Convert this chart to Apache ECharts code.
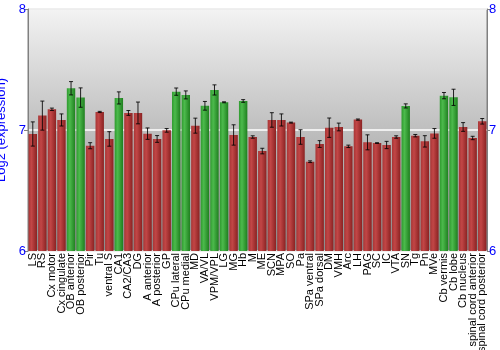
<!DOCTYPE html>
<html>
<head>
<meta charset="utf-8">
<script src="https://cdn.jsdelivr.net/npm/echarts@6/dist/echarts.min.js"></script>
<style>
  html, body { margin: 0; padding: 0; background: #ffffff; }
  #chart { width: 500px; height: 350px; }
</style>
</head>
<body>
<div id="chart"></div>
<script>
// Brain regions (x axis categories)
const regions = [
  'LS', 'RS', 'Cx motor', 'Cx cingulate', 'OB anterior', 'OB posterior', 'Pir', 'Tu',
  'ventral S', 'CA1', 'CA2/CA3', 'DG', 'A anterior', 'A posterior', 'GP', 'CPu lateral',
  'CPu medial', 'MD', 'VA/VL', 'VPM/VPL', 'LG', 'MG', 'Hb', 'M', 'ME', 'SCN', 'MPA', 'SO',
  'Pa', 'SPa ventral', 'SPa dorsal', 'DM', 'VMH', 'Arc', 'LH', 'PAG', 'SC', 'IC', 'VTA',
  'SN', 'Tg', 'Pn', 'MVe', 'Cb vermis', 'Cb lobe', 'Cb nucleus', 'spinal cord anterior',
  'spinal cord posterior'
];

// Mean log2 expression per region
const expression = [
  6.967, 7.119, 7.171, 7.083, 7.345, 7.268, 6.870, 7.149,
  6.926, 7.265, 7.141, 7.141, 6.970, 6.926, 6.997, 7.317,
  7.290, 7.036, 7.200, 7.331, 7.229, 6.959, 7.240, 6.942, 6.826, 7.083, 7.083, 7.061,
  6.942, 6.738, 6.884, 7.019, 7.025, 6.865, 7.086, 6.898, 6.892, 6.876, 6.942,
  7.199, 6.953, 6.906, 6.972, 7.284, 7.270, 7.025, 6.934,
  7.072
];

// Standard error per region
const stdErr = [
  0.100, 0.120, 0.010, 0.050, 0.055, 0.080, 0.025, 0.005,
  0.060, 0.050, 0.020, 0.090, 0.047, 0.028, 0.015, 0.030,
  0.033, 0.062, 0.036, 0.042, 0.004, 0.084, 0.011, 0.010, 0.023, 0.060, 0.050, 0.004,
  0.060, 0.007, 0.028, 0.080, 0.032, 0.010, 0.005, 0.062, 0.003, 0.030, 0.010,
  0.017, 0.010, 0.047, 0.040, 0.026, 0.067, 0.036, 0.014,
  0.023
];

// Regions flagged as enriched (drawn in green)
const enriched = [
  'OB anterior', 'OB posterior', 'CA1', 'CPu lateral', 'CPu medial', 'VA/VL',
  'VPM/VPL', 'LG', 'Hb', 'SN', 'Cb vermis', 'Cb lobe'
];

// Y axis ticks
const yTicks = [6, 7, 8];

const hGrad = (edgeL, mid, edgeR) => new echarts.graphic.LinearGradient(0, 0, 1, 0, [
  { offset: 0, color: edgeL },
  { offset: 0.35, color: mid },
  { offset: 1, color: edgeR }
]);
const redFill = hGrad('#a83636', '#c24646', '#8a2222');
const greenFill = hGrad('#2f9a2f', '#4cba4c', '#1f7f1f');

const chart = echarts.init(document.getElementById('chart'), null, { renderer: 'canvas' });

const barData = expression.map((v, i) => ({
  value: v,
  itemStyle: { color: enriched.includes(regions[i]) ? greenFill : redFill }
}));

const errData = expression.map((v, i) => [i, v - stdErr[i], v + stdErr[i]]);

const yMin = yTicks[0], yMax = yTicks[yTicks.length - 1];
const font = 'Liberation Sans, Arial, sans-serif';

chart.setOption({
  animation: false,
  grid: {
    left: 28, right: 13, top: 9, bottom: 99,
    containLabel: false,
    outerBoundsMode: 'none',
    show: true,
    borderColor: '#808080',
    borderWidth: 1,
    backgroundColor: new echarts.graphic.LinearGradient(0, 0, 0, 1, [
      { offset: 0, color: '#f3f3f3' },
      { offset: 1, color: '#8a8a8a' }
    ])
  },
  xAxis: {
    type: 'category',
    data: regions,
    boundaryGap: true,
    axisLine: { show: false },
    axisTick: { show: false },
    axisLabel: {
      interval: 0,
      rotate: 90,
      margin: 2,
      color: '#000000',
      fontFamily: font,
      fontSize: 11
    }
  },
  yAxis: [
    {
      type: 'value',
      min: yMin, max: yMax, interval: 1,
      position: 'left',
      name: 'Log2 (expression)',
      nameLocation: 'middle',
      nameGap: 13,
      nameTextStyle: { color: '#0000ff', fontSize: 13, fontFamily: font },
      axisLine: { show: true, lineStyle: { color: '#808080' } },
      axisTick: { show: true, length: 4, lineStyle: { color: '#808080' } },
      axisLabel: { color: '#0000ff', fontSize: 13, margin: 2, fontFamily: font },
      splitLine: { show: true, lineStyle: { color: '#ffffff', width: 1.5 } }
    },
    {
      type: 'value',
      min: yMin, max: yMax, interval: 1,
      position: 'right',
      axisLine: { show: true, lineStyle: { color: '#808080' } },
      axisTick: { show: true, length: 3, lineStyle: { color: '#808080' } },
      axisLabel: { color: '#0000ff', fontSize: 13, margin: 2, fontFamily: font },
      splitLine: { show: false }
    }
  ],
  series: [
    {
      type: 'bar',
      data: barData,
      barWidth: '88%',
      yAxisIndex: 0
    },
    {
      type: 'custom',
      yAxisIndex: 0,
      data: errData,
      z: 5,
      renderItem: (params, api) => {
        const x = api.value(0);
        const lo = api.coord([x, api.value(1)]);
        const hi = api.coord([x, api.value(2)]);
        const cap = 2;
        const style = { stroke: '#000000', lineWidth: 1, opacity: 0.85 };
        return {
          type: 'group',
          children: [
            { type: 'line', shape: { x1: lo[0], y1: lo[1], x2: hi[0], y2: hi[1] }, style },
            { type: 'line', shape: { x1: lo[0] - cap, y1: lo[1], x2: lo[0] + cap, y2: lo[1] }, style },
            { type: 'line', shape: { x1: hi[0] - cap, y1: hi[1], x2: hi[0] + cap, y2: hi[1] }, style }
          ]
        };
      }
    }
  ]
});
</script>
</body>
</html>
